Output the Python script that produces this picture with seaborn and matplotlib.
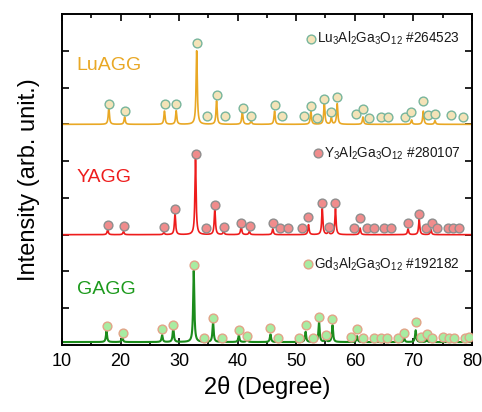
import numpy as np
import pandas as pd
import matplotlib
matplotlib.use("Agg")
import matplotlib.pyplot as plt
import seaborn as sns

# ---------------- data ----------------
samples = ["LuAGG", "YAGG", "GAGG"]
offsets = [6.0, 3.0, 0.08]

# measured peak positions (deg) and heights above baseline
lu_peak_pos = [18.0, 20.7, 27.5, 29.5, 33.0, 36.4, 40.8, 42.3, 46.3, 52.5, 54.8, 56.0, 57.0, 61.4, 69.7, 71.7, 73.7]
lu_peak_h   = [0.45, 0.20, 0.36, 0.37, 2.00, 0.64, 0.35, 0.10, 0.36, 0.36, 0.59, 0.18, 0.56, 0.20, 0.12, 0.36, 0.10]

y_peak_pos = [17.8, 20.5, 27.4, 29.3, 32.8, 36.1, 37.6, 40.6, 42.0, 46.0, 52.1, 54.45, 55.5, 56.7, 60.9, 69.1, 71.0, 73.0]
y_peak_h   = [0.14, 0.09, 0.06, 0.59, 2.05, 0.71, 0.09, 0.23, 0.09, 0.16, 0.27, 0.71, 0.09, 0.71, 0.18, 0.16, 0.42, 0.14]

g_peak_pos = [17.6, 20.3, 27.1, 29.0, 32.5, 35.8, 37.3, 40.2, 41.6, 45.6, 51.6, 53.9, 55.0, 56.2, 60.4, 68.45, 70.4, 72.3]
g_peak_h   = [0.30, 0.14, 0.19, 0.39, 1.94, 0.56, 0.07, 0.19, 0.10, 0.21, 0.28, 0.56, 0.14, 0.46, 0.16, 0.10, 0.32, 0.07]

# reference (PDF card) markers: positions and heights above baseline
lu_ref_pos = [17.97, 20.7, 27.53, 29.46, 32.99, 34.76, 36.41, 37.89, 40.85, 42.21, 46.31, 47.56, 51.32, 52.46,
              53.59, 54.79, 55.93, 57.01, 60.2, 61.33, 62.47, 64.52, 65.66, 68.5, 69.64, 71.69, 72.49, 73.63,
              76.47, 78.41]
lu_ref_h   = [0.56, 0.35, 0.55, 0.55, 2.2, 0.22, 0.8, 0.22, 0.45, 0.24, 0.53, 0.22, 0.24, 0.51,
              0.18, 0.68, 0.33, 0.73, 0.29, 0.42, 0.18, 0.21, 0.21, 0.21, 0.34, 0.64, 0.25, 0.29,
              0.25, 0.2]

y_ref_pos = [17.8, 20.59, 27.36, 29.29, 32.82, 34.53, 36.07, 37.66, 40.56, 42.04, 45.97, 47.22, 48.53, 50.92,
             52.06, 54.45, 55.53, 56.67, 59.91, 60.94, 62.07, 63.21, 65.03, 66.17, 69.13, 71.01, 72.15, 73.12,
             74.03, 75.85, 76.81, 77.78]
y_ref_h   = [0.25, 0.24, 0.21, 0.71, 2.19, 0.18, 0.82, 0.22, 0.31, 0.24, 0.32, 0.18, 0.18, 0.18,
             0.49, 0.85, 0.22, 0.85, 0.18, 0.44, 0.18, 0.18, 0.18, 0.18, 0.33, 0.56, 0.18, 0.31,
             0.18, 0.18, 0.18, 0.18]

g_ref_pos = [17.63, 20.36, 27.07, 29.01, 32.54, 34.24, 35.78, 37.32, 40.22, 41.64, 45.51, 46.82, 50.41, 51.66,
             52.8, 53.88, 55.02, 56.16, 59.34, 60.42, 61.33, 63.33, 64.41, 65.43, 67.42, 68.45, 70.38, 71.29,
             72.26, 73.23, 75.11, 76.07, 76.98, 78.81, 79.55]
g_ref_h   = [0.43, 0.26, 0.36, 0.47, 2.10, 0.12, 0.65, 0.12, 0.33, 0.16, 0.37, 0.12, 0.12, 0.46,
             0.10, 0.67, 0.19, 0.63, 0.15, 0.35, 0.10, 0.10, 0.10, 0.10, 0.10, 0.25, 0.55, 0.14,
             0.21, 0.10, 0.14, 0.12, 0.12, 0.12, 0.15]

card_labels = [r"Lu$_3$Al$_2$Ga$_3$O$_{12}$ #264523",
               r"Y$_3$Al$_2$Ga$_3$O$_{12}$ #280107",
               r"Gd$_3$Al$_2$Ga$_3$O$_{12}$ #192182"]

x_ticks = [10, 20, 30, 40, 50, 60, 70, 80]

# ---------------- style ----------------
sns.set_theme(style="ticks")
plt.rcParams["font.family"] = ["Liberation Sans", "DejaVu Sans"]
plt.rcParams["mathtext.fontset"] = "custom"
plt.rcParams["mathtext.rm"] = "Liberation Sans"
plt.rcParams["mathtext.it"] = "Liberation Sans:italic"
plt.rcParams["mathtext.bf"] = "Liberation Sans:bold"
plt.rcParams["text.color"] = "black"
plt.rcParams["axes.labelcolor"] = "black"
plt.rcParams["xtick.color"] = "black"
plt.rcParams["ytick.color"] = "black"

line_colors = ["#e9a825", "#ee1c1c", "#1c8c1c"]
label_colors = ["#e9a825", "#ee1c1c", "#1c9a1c"]
mk_face = ["#f4e3b8", "#f08c8c", "#a8eca2"]
mk_edge = ["#78b59c", "#8e8e8e", "#e2a488"]
line_w = [1.2, 1.2, 1.5]

fig = plt.figure(figsize=(4.82, 4.12), dpi=100)
ax = fig.add_axes([0.1286, 0.1626, 0.979 - 0.1286, 0.966 - 0.1626])

xg = np.linspace(10, 80, 7001)


def pattern(pos, h, off, w=0.12):
    y = np.full_like(xg, off)
    for p, a in zip(pos, h):
        y += a * w**2 / ((xg - p) ** 2 + w**2)
    return y


peak_sets = [(lu_peak_pos, lu_peak_h), (y_peak_pos, y_peak_h), (g_peak_pos, g_peak_h)]
ref_sets = [(lu_ref_pos, lu_ref_h), (y_ref_pos, y_ref_h), (g_ref_pos, g_ref_h)]

for i, name in enumerate(samples):
    pos, h = peak_sets[i]
    df = pd.DataFrame({"x": xg, "y": pattern(pos, h, offsets[i])})
    sns.lineplot(data=df, x="x", y="y", ax=ax, color=line_colors[i], lw=line_w[i],
                 estimator=None, sort=False, zorder=2)
    rp, rh = ref_sets[i]
    dfr = pd.DataFrame({"x": rp, "y": np.array(rh) + offsets[i]})
    sns.scatterplot(data=dfr, x="x", y="y", ax=ax, s=40, color=mk_face[i],
                    edgecolor=mk_edge[i], linewidth=1.0, zorder=3)

# sample labels
label_pos = [(12.5, 7.6), (12.5, 4.55), (12.5, 1.5)]
for i, name in enumerate(samples):
    ax.text(label_pos[i][0], label_pos[i][1], name, color=label_colors[i],
            fontsize=14, va="center", ha="left")

# card legends
card_mk = [(52.6, 8.33), (53.76, 5.21), (52.05, 2.2)]
for i in range(3):
    mx, my = card_mk[i]
    ax.scatter([mx], [my], s=40, color=mk_face[i], edgecolor=mk_edge[i], linewidth=1.0, zorder=3)
    ax.text(mx + 1.0, my, card_labels[i], fontsize=9.8, va="center", ha="left", color="#1a1a1a")

ax.set_xlim(10, 80)
ax.set_ylim(0, 9)
ax.set_xticks(x_ticks)
ax.set_xticks(np.arange(15, 80, 10), minor=True)
ax.set_yticks(np.arange(1, 9))
ax.set_yticklabels([])
ax.tick_params(axis="both", which="both", direction="in", top=True, right=True, width=1.2)
ax.tick_params(axis="both", which="major", length=5)
ax.tick_params(axis="x", which="minor", length=3)
ax.tick_params(axis="x", which="major", labelsize=13, pad=6)
for s in ax.spines.values():
    s.set_linewidth(1.4)
    s.set_color("black")

ax.set_xlabel("2θ (Degree)", fontsize=17, labelpad=4)
ax.set_ylabel("Intensity (arb. unit.)", fontsize=17, labelpad=12)

fig.savefig("out.png", dpi=100)
